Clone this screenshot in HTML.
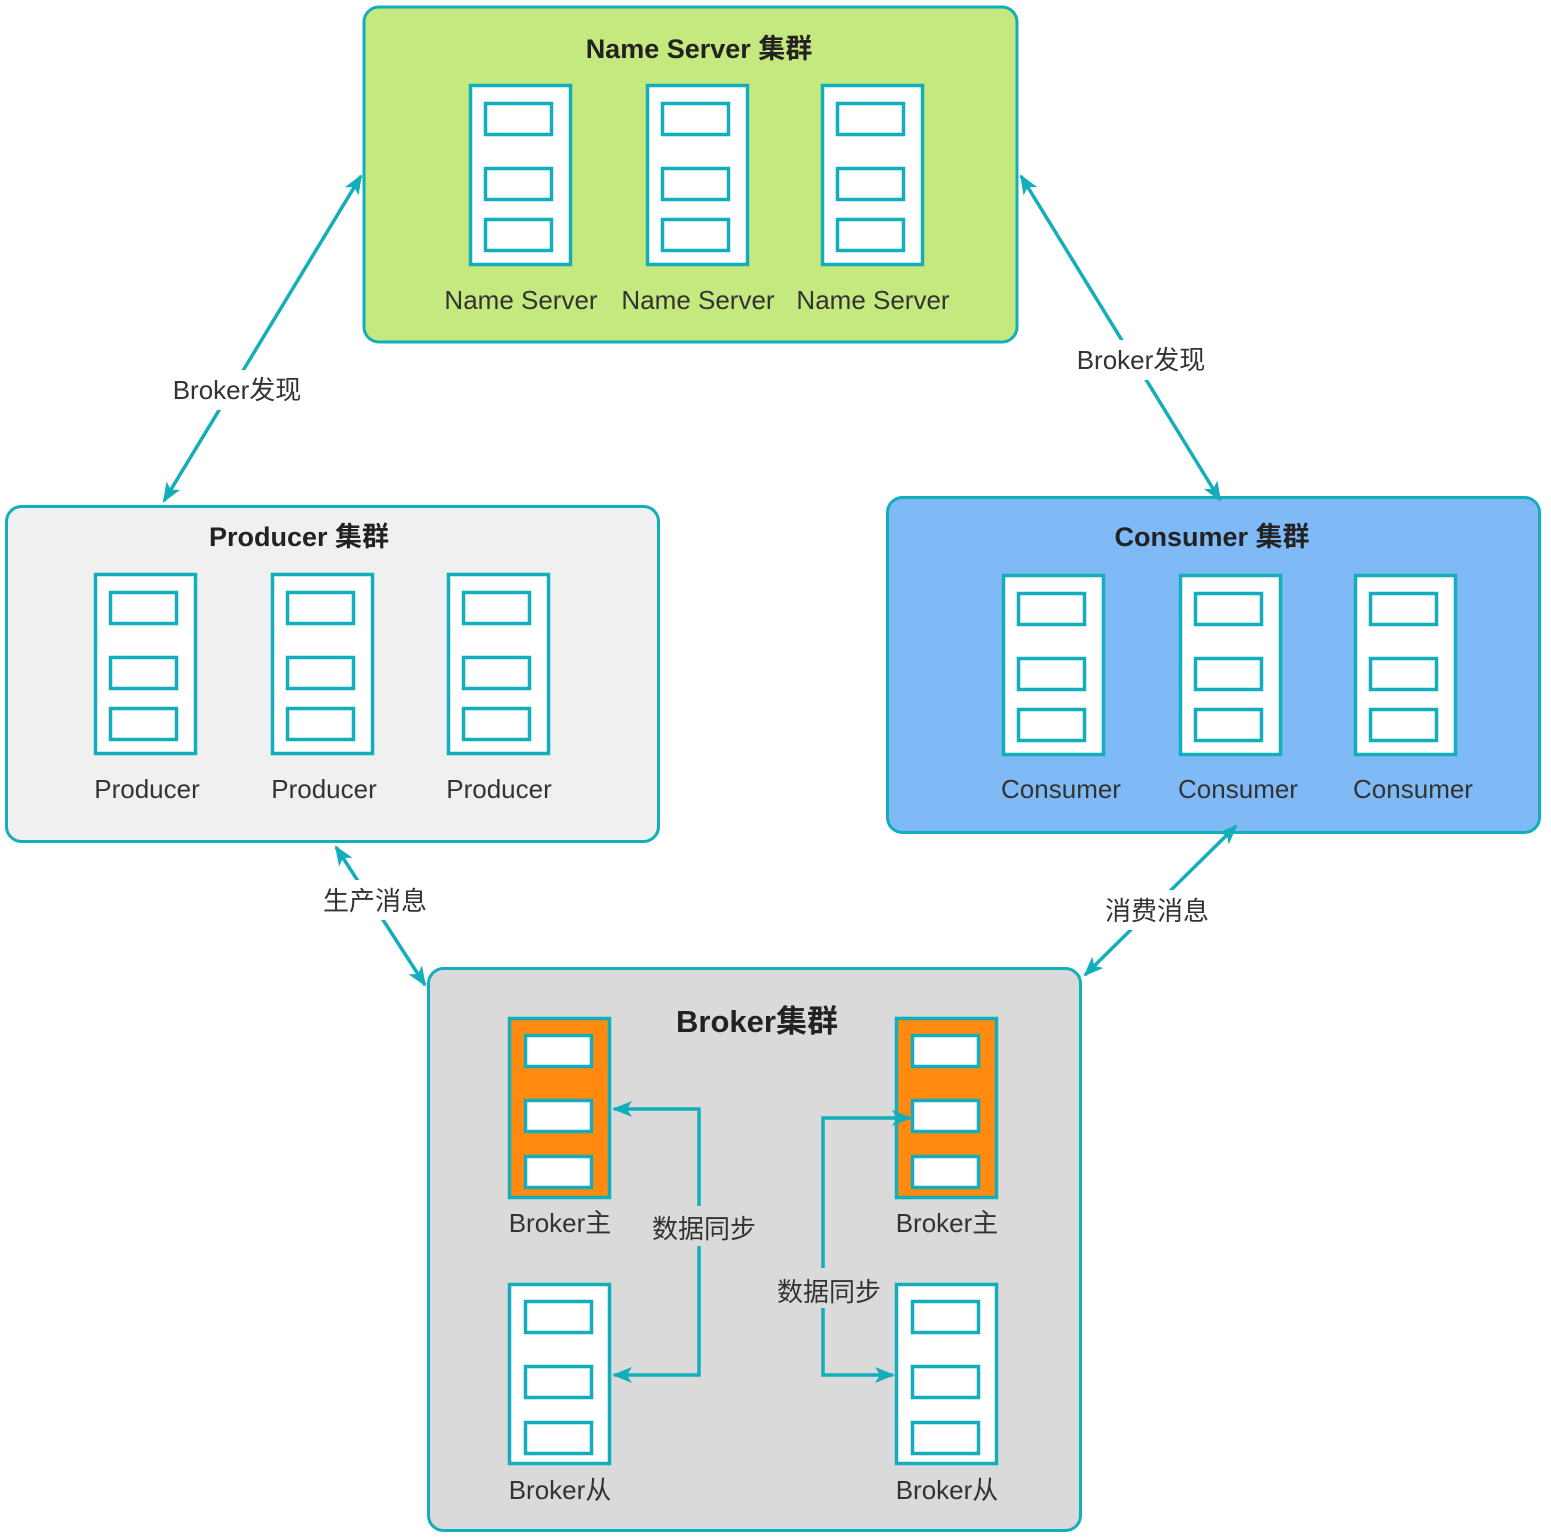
<!DOCTYPE html>
<html><head><meta charset="utf-8"><style>
html,body{margin:0;padding:0;background:#fff}
svg{display:block}
text{font-family:"Liberation Sans","Noto Sans CJK SC",sans-serif;fill:#333}
.t{font-weight:bold;font-size:27px;fill:#222}
.l{font-size:26px}
.c{font-size:26px}
</style></head><body>
<svg width="1551" height="1537" viewBox="0 0 1551 1537" xmlns="http://www.w3.org/2000/svg">
<defs>
<marker id="a" viewBox="0 0 20 20" refX="18" refY="10" markerWidth="20" markerHeight="20" markerUnits="userSpaceOnUse" orient="auto-start-reverse">
<path d="M0,2 L20,10 L0,18 L5,10 Z" fill="#12aebb"/>
</marker>
<g id="s"><rect x="1.5" y="1.5" width="100" height="179" stroke="#12aebb" stroke-width="3.5" fill="#fff"/>
<rect x="16.5" y="19.5" width="66" height="31" stroke="#12aebb" stroke-width="3.5" fill="#fff"/>
<rect x="16.5" y="84.5" width="66" height="31" stroke="#12aebb" stroke-width="3.5" fill="#fff"/>
<rect x="16.5" y="135.5" width="66" height="31" stroke="#12aebb" stroke-width="3.5" fill="#fff"/></g>
<g id="o"><rect x="1.5" y="1.5" width="100" height="179" stroke="#12aebb" stroke-width="3.5" fill="#ff8a0f"/>
<rect x="17.5" y="18.5" width="66" height="31" stroke="#12aebb" stroke-width="3.5" fill="#fff"/>
<rect x="17.5" y="83.5" width="66" height="31" stroke="#12aebb" stroke-width="3.5" fill="#fff"/>
<rect x="17.5" y="139.5" width="66" height="31" stroke="#12aebb" stroke-width="3.5" fill="#fff"/></g>
<g id="w"><rect x="1.5" y="1.5" width="100" height="179" stroke="#12aebb" stroke-width="3.5" fill="#fff"/>
<rect x="17.5" y="18.5" width="66" height="31" stroke="#12aebb" stroke-width="3.5" fill="#fff"/>
<rect x="17.5" y="83.5" width="66" height="31" stroke="#12aebb" stroke-width="3.5" fill="#fff"/>
<rect x="17.5" y="139.5" width="66" height="31" stroke="#12aebb" stroke-width="3.5" fill="#fff"/></g>
</defs>

<rect x="364" y="7" width="653" height="335" rx="15" fill="#c5e87f" stroke="#12aebb" stroke-width="3"/>
<rect x="6.5" y="506.5" width="652" height="335" rx="15" fill="#eff0ef" stroke="#12aebb" stroke-width="3"/>
<rect x="887.5" y="497.5" width="652" height="335" rx="15" fill="#7fbaf7" stroke="#12aebb" stroke-width="3"/>
<rect x="428.5" y="968.5" width="652" height="562" rx="15" fill="#d9dad9" stroke="#12aebb" stroke-width="3"/>

<text class="t" x="699" y="58" text-anchor="middle">Name Server 集群</text>
<text class="t" x="299" y="546" text-anchor="middle">Producer 集群</text>
<text class="t" x="1212" y="546" text-anchor="middle">Consumer 集群</text>
<text class="t" x="757" y="1032" text-anchor="middle" style="font-size:31px">Broker集群</text>

<use href="#s" x="469" y="84"/><use href="#s" x="646" y="84"/><use href="#s" x="821" y="84"/>
<text class="l" x="521" y="309" text-anchor="middle">Name Server</text>
<text class="l" x="698" y="309" text-anchor="middle">Name Server</text>
<text class="l" x="873" y="309" text-anchor="middle">Name Server</text>

<use href="#s" x="94" y="573"/><use href="#s" x="271" y="573"/><use href="#s" x="447" y="573"/>
<text class="l" x="147" y="798" text-anchor="middle">Producer</text>
<text class="l" x="324" y="798" text-anchor="middle">Producer</text>
<text class="l" x="499" y="798" text-anchor="middle">Producer</text>

<use href="#s" x="1002" y="574"/><use href="#s" x="1179" y="574"/><use href="#s" x="1354" y="574"/>
<text class="l" x="1061" y="798" text-anchor="middle">Consumer</text>
<text class="l" x="1238" y="798" text-anchor="middle">Consumer</text>
<text class="l" x="1413" y="798" text-anchor="middle">Consumer</text>

<use href="#o" x="508" y="1017"/><use href="#o" x="895" y="1017"/>
<use href="#w" x="508" y="1283"/><use href="#w" x="895" y="1283"/>
<text class="l" x="560" y="1232" text-anchor="middle">Broker主</text>
<text class="l" x="947" y="1232" text-anchor="middle">Broker主</text>
<text class="l" x="560" y="1499" text-anchor="middle">Broker从</text>
<text class="l" x="947" y="1499" text-anchor="middle">Broker从</text>

<g stroke="#12aebb" stroke-width="3.5" fill="none">
<line x1="361" y1="176" x2="164" y2="501" marker-start="url(#a)" marker-end="url(#a)"/>
<line x1="1021" y1="176" x2="1220" y2="500" marker-start="url(#a)" marker-end="url(#a)"/>
<line x1="336" y1="847" x2="425" y2="985" marker-start="url(#a)" marker-end="url(#a)"/>
<line x1="1236" y1="826" x2="1085" y2="975" marker-start="url(#a)" marker-end="url(#a)"/>
<path d="M614,1109 H699 V1375 H614" marker-start="url(#a)" marker-end="url(#a)"/>
<path d="M910,1118 H823 V1375 H893" marker-start="url(#a)" marker-end="url(#a)"/>
</g>

<rect x="162" y="370" width="150" height="40" fill="#fff"/>
<text class="c" x="237" y="399" text-anchor="middle">Broker发现</text>
<rect x="1066" y="340" width="150" height="40" fill="#fff"/>
<text class="c" x="1141" y="369" text-anchor="middle">Broker发现</text>
<rect x="314" y="880" width="122" height="40" fill="#fff"/>
<text class="c" x="375" y="910" text-anchor="middle">生产消息</text>
<rect x="1095" y="890" width="124" height="40" fill="#fff"/>
<text class="c" x="1157" y="920" text-anchor="middle">消费消息</text>
<rect x="643" y="1206" width="124" height="40" fill="#d9dad9"/>
<text class="c" x="704" y="1238" text-anchor="middle">数据同步</text>
<rect x="767" y="1268" width="124" height="40" fill="#d9dad9"/>
<text class="c" x="829" y="1301" text-anchor="middle">数据同步</text>
</svg>
</body></html>
